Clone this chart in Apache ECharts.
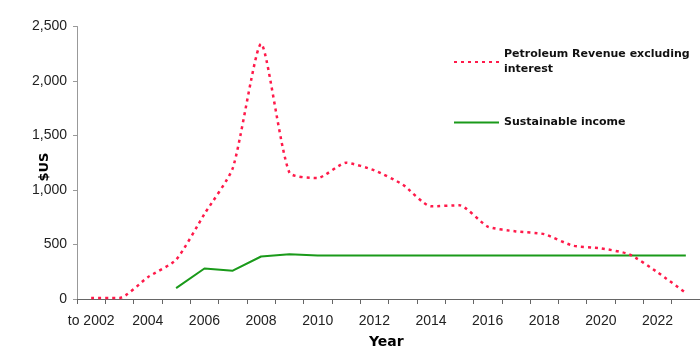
<!DOCTYPE html>
<html>
<head>
<meta charset="utf-8">
<script src="https://cdn.jsdelivr.net/npm/echarts@6/dist/echarts.min.js"></script>
<style>
html,body{margin:0;padding:0;background:#fff;}
#c{width:700px;height:359px;}
</style>
</head>
<body>
<div id="c"></div>
<script>
var categories = ['to 2002','2003','2004','2005','2006','2007','2008','2009','2010','2011','2012','2013','2014','2015','2016','2017','2018','2019','2020','2021','2022','2023'];
var petroleumRevenue = [10,10,200,360,780,1200,2340,1160,1110,1250,1180,1050,850,860,665,620,595,490,465,410,245,55];
var sustainableIncome = [null,null,null,100,280,260,390,410,400,400,400,400,400,400,400,400,400,400,400,400,400,400];
var yTicks = [0,500,1000,1500,2000,2500];

var chart = echarts.init(document.getElementById('c'));
chart.setOption({
  animation: false,
  backgroundColor: '#ffffff',
  grid: {left: 77, right: 0, top: 26.5, bottom: 60},
  legend: {
    orient: 'vertical',
    left: 448,
    top: 42,
    itemGap: 38,
    itemWidth: 45,
    itemHeight: 4,
    itemStyle: {opacity: 0},
    textStyle: {fontFamily: 'DejaVu Sans', fontWeight: 'bold', fontSize: 11, color: '#111', lineHeight: 15},
    formatter: function(n){ return n === 'Petroleum Revenue excluding interest' ? 'Petroleum Revenue excluding\ninterest' : n; },
    data: ['Petroleum Revenue excluding interest','Sustainable income']
  },
  graphic: [
    {type: 'text', left: 369, top: 335, style: {text: 'Year', font: 'bold 14px "DejaVu Sans"', fill: '#000'}},
    {type: 'text', x: 45, y: 167, rotation: Math.PI / 2, style: {text: '$US', font: 'bold 13px "DejaVu Sans"', fill: '#000', align: 'center', verticalAlign: 'middle'}}
  ],
  xAxis: {
    type: 'category',
    data: categories,
    boundaryGap: true,
    axisLine: {lineStyle: {color: '#666', width: 1}},
    axisTick: {show: true, interval: 0, length: 5, lineStyle: {color: '#666'}},
    axisLabel: {interval: 1, margin: 15, fontFamily: 'Liberation Sans', fontSize: 14, color: '#222'}
  },
  yAxis: {
    type: 'value',
    min: 0, max: 2500, interval: 500,
    axisLine: {show: true, lineStyle: {color: '#999', width: 1}},
    axisTick: {show: true, length: 4, lineStyle: {color: '#999'}},
    splitLine: {show: false},
    axisLabel: {margin: 10, fontFamily: 'Liberation Sans', fontSize: 14, color: '#222',
      formatter: function(v){ return v.toLocaleString('en-US'); }}
  },
  series: [
    {
      name: 'Petroleum Revenue excluding interest',
      type: 'line',
      data: petroleumRevenue,
      smooth: 0.2,
      symbol: 'none',
      lineStyle: {color: '#ff1a4a', width: 2.5, type: [3, 4]},
      itemStyle: {color: '#ff1a4a'},
      z: 3
    },
    {
      name: 'Sustainable income',
      type: 'line',
      data: sustainableIncome,
      symbol: 'none',
      lineStyle: {color: '#1a9a1a', width: 2},
      itemStyle: {color: '#1a9a1a'},
      z: 2
    }
  ]
});
</script>
</body>
</html>
